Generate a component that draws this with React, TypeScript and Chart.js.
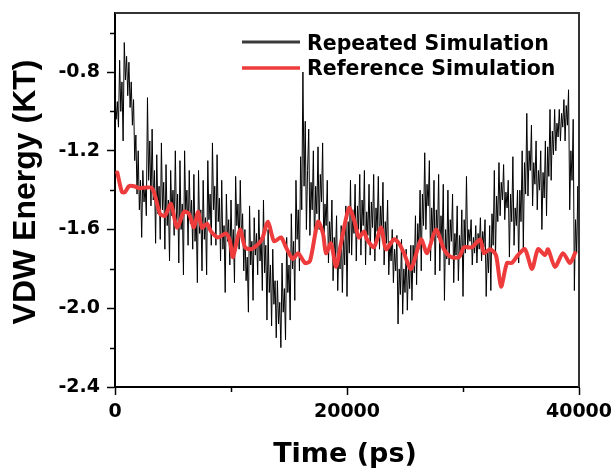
import React, { useEffect, useRef } from 'react';
import { Chart, registerables } from 'chart.js';

Chart.register(...registerables);

// ---------- data ----------
const TIME_STEP = 100; // ps between samples of the repeated simulation

const repeatedValues = [
  -0.97, -1.04, -0.95, -1.08, -0.74, -1.00, -0.85, -1.15, -0.65, -0.84, -0.72, -0.92,
  -0.75, -0.98, -0.85, -1.07, -0.94, -1.25, -1.12, -1.42, -1.20, -1.50, -1.35, -1.64,
  -1.30, -1.46, -1.38, -1.53, -0.93, -1.35, -1.15, -1.48, -1.09, -1.45, -1.30, -1.67,
  -1.22, -1.52, -1.38, -1.65, -1.16, -1.50, -1.36, -1.70, -1.27, -1.58, -1.45, -1.76,
  -1.30, -1.53, -1.40, -1.63, -1.20, -1.56, -1.42, -1.77, -1.25, -1.60, -1.47, -1.83,
  -1.20, -1.52, -1.40, -1.68, -1.30, -1.57, -1.45, -1.70, -1.32, -1.66, -1.52, -1.87,
  -1.30, -1.62, -1.50, -1.81, -1.35, -1.65, -1.54, -1.83, -1.25, -1.55, -1.42, -1.68,
  -1.16, -1.50, -1.38, -1.68, -1.22, -1.56, -1.44, -1.76, -1.35, -1.70, -1.58, -1.92,
  -1.42, -1.66, -1.55, -1.78, -1.45, -1.72, -1.60, -1.87, -1.33, -1.58, -1.47, -1.70,
  -1.35, -1.65, -1.52, -1.81, -1.60, -1.86, -1.74, -2.02, -1.48, -1.78, -1.66, -1.96,
  -1.54, -1.73, -1.62, -1.83, -1.50, -1.76, -1.64, -1.91, -1.45, -1.82, -1.68, -2.06,
  -1.60, -1.92, -1.78, -2.09, -1.70, -1.98, -1.86, -2.15, -1.86, -2.08, -1.97, -2.20,
  -1.77, -2.02, -1.90, -2.16, -1.64, -1.92, -1.78, -2.06, -1.52, -1.80, -1.66, -1.96,
  -1.35, -1.65, -1.50, -1.81, -1.23, -1.50, -0.80, -1.38, -1.05, -1.60, -1.30, -1.09,
  -1.63, -1.36, -1.50, -1.20, -1.68, -1.38, -1.52, -1.18, -1.60, -1.32, -1.46, -1.16,
  -1.70, -1.47, -1.58, -1.35, -1.77, -1.56, -1.67, -1.45, -1.86, -1.64, -1.75, -1.53,
  -1.91, -1.70, -1.80, -1.58, -1.92, -1.64, -1.78, -1.48, -1.94, -1.56, -1.72, -1.35,
  -1.73, -1.50, -1.62, -1.37, -1.76, -1.48, -1.60, -1.32, -1.73, -1.45, -1.58, -1.30,
  -1.78, -1.51, -1.63, -1.37, -1.73, -1.46, -1.59, -1.32, -1.76, -1.49, -1.61, -1.33,
  -1.70, -1.48, -1.60, -1.36, -1.78, -1.56, -1.67, -1.45, -1.83, -1.66, -1.76, -1.60,
  -1.87, -1.70, -1.81, -1.63, -2.08, -1.80, -1.93, -1.65, -2.03, -1.80, -1.92, -1.70,
  -2.01, -1.78, -1.90, -1.68, -1.96, -1.68, -1.82, -1.53, -1.88, -1.57, -1.70, -1.40,
  -1.81, -1.42, -1.58, -1.21, -1.60, -1.37, -1.48, -1.25, -1.76, -1.49, -1.62, -1.35,
  -1.83, -1.50, -1.64, -1.32, -1.81, -1.53, -1.66, -1.37, -1.96, -1.60, -1.75, -1.40,
  -1.78, -1.55, -1.66, -1.42, -1.87, -1.62, -1.73, -1.48, -1.86, -1.63, -1.74, -1.50,
  -1.94, -1.55, -1.72, -1.33, -1.70, -1.60, -1.66, -1.55, -1.78, -1.64, -1.72, -1.58,
  -1.77, -1.62, -1.70, -1.54, -1.76, -1.61, -1.69, -1.55, -1.94, -1.70, -1.82, -1.58,
  -1.91, -1.52, -1.68, -1.30, -1.74, -1.43, -1.56, -1.26, -1.53, -1.36, -1.45, -1.27,
  -1.55, -1.41, -1.49, -1.35, -1.74, -1.42, -1.56, -1.23, -1.68, -1.49, -1.58, -1.40,
  -1.77, -1.40, -1.56, -1.20, -1.70, -1.26, -1.42, -1.01, -1.43, -1.20, -1.30, -1.07,
  -1.48, -1.26, -1.37, -1.15, -1.50, -1.30, -1.40, -1.20, -1.60, -1.31, -1.44, -1.15,
  -1.53, -1.18, -1.33, -0.99, -1.35, -1.10, -1.22, -0.99, -1.20, -1.06, -1.13, -0.99,
  -1.15, -1.01, -1.08, -0.94, -1.15, -0.97, -1.07, -0.89, -1.50, -1.20, -1.35, -1.04,
  -1.91, -1.55, -1.72, -1.38, -1.94,
];

const referenceTimes = [
  200, 600, 860, 1200, 1640, 2070, 3190, 3880, 4310, 4830,
  5340, 5950, 6380, 6810, 7160, 7500, 7930, 8280, 8880, 9570,
  9910, 10170, 10780, 11210, 11720, 12240, 12670, 13190, 13710, 14310,
  14740, 15340, 15780, 16380, 16810, 17500, 17930, 18190, 18620, 19050,
  19480, 20170, 20600, 21030, 21470, 21720, 22330, 22930, 23360, 24050,
  24480, 24910, 25520, 26380, 26900, 27670, 28360, 28970, 29660, 30090,
  30780, 31470, 31810, 32330, 32840, 33280, 33790, 34220, 34740, 35340,
  35950, 36470, 37070, 37330, 37930, 38620, 39220, 39660,
];
const referenceValues = [
  -1.31, -1.41, -1.41, -1.38, -1.38, -1.39, -1.39, -1.52, -1.53, -1.47,
  -1.59, -1.51, -1.52, -1.59, -1.51, -1.59, -1.57, -1.61, -1.64, -1.62,
  -1.66, -1.74, -1.60, -1.69, -1.70, -1.68, -1.65, -1.56, -1.66, -1.64,
  -1.69, -1.75, -1.72, -1.77, -1.76, -1.56, -1.62, -1.72, -1.67, -1.79,
  -1.67, -1.49, -1.55, -1.64, -1.61, -1.65, -1.69, -1.59, -1.70, -1.65,
  -1.67, -1.72, -1.80, -1.65, -1.72, -1.60, -1.70, -1.74, -1.74, -1.69,
  -1.69, -1.65, -1.72, -1.70, -1.73, -1.89, -1.77, -1.77, -1.73, -1.70,
  -1.80, -1.70, -1.73, -1.70, -1.79, -1.72, -1.77, -1.72,
];

const SERIES_LABELS = ['Repeated Simulation', 'Reference Simulation'];
const X_TICK_VALUES = [0, 10000, 20000, 30000, 40000];
const X_MAJOR_TICKS = [0, 20000, 40000];
const Y_TICK_VALUES = [-2.4, -2.2, -2.0, -1.8, -1.6, -1.4, -1.2, -1.0, -0.8, -0.6];
const Y_MAJOR_TICKS = [-2.4, -2.0, -1.6, -1.2, -0.8];
const X_TITLE = 'Time (ps)';
const Y_TITLE = 'VDW Energy (KT)';

// ---------- helpers ----------
const isMajor = (list: number[], v: number) => list.some((m) => Math.abs(m - v) < 1e-6);
const TICK_FONT = { family: '"DejaVu Sans", sans-serif', size: 19, weight: 'bold' as const };

const decorPlugin = {
  id: 'decor',
  afterDraw(chart: any) {
    const { ctx, chartArea } = chart;
    const { left, right, top, bottom } = chartArea;
    ctx.save();
    // frame (top & right)
    ctx.strokeStyle = '#333';
    ctx.lineWidth = 2;
    ctx.beginPath();
    ctx.moveTo(left, top);
    ctx.lineTo(right, top);
    ctx.lineTo(right, bottom);
    ctx.stroke();

    // minor ticks
    ctx.strokeStyle = '#000';
    ctx.lineWidth = 1.5;
    const xs = chart.scales.x;
    xs.ticks.forEach((t: any) => {
      if (!isMajor(X_MAJOR_TICKS, t.value)) {
        const px = Math.round(xs.getPixelForValue(t.value)) + 0.5;
        ctx.beginPath();
        ctx.moveTo(px, bottom);
        ctx.lineTo(px, bottom + 5);
        ctx.stroke();
      }
    });
    const ys = chart.scales.y;
    ys.ticks.forEach((t: any) => {
      if (!isMajor(Y_MAJOR_TICKS, t.value)) {
        const py = Math.round(ys.getPixelForValue(t.value)) + 0.5;
        ctx.beginPath();
        ctx.moveTo(left, py);
        ctx.lineTo(left - 5, py);
        ctx.stroke();
      }
    });

    // axis titles
    ctx.fillStyle = '#000';
    ctx.font = 'bold 27px "DejaVu Sans", sans-serif';
    ctx.textAlign = 'center';
    ctx.textBaseline = 'alphabetic';
    ctx.fillText(X_TITLE, (left + right) / 2 - 2, 462);

    ctx.save();
    ctx.translate(35, 192);
    ctx.rotate(-Math.PI / 2);
    ctx.font = 'bold 32px "Liberation Sans", Arial, sans-serif';
    ctx.textAlign = 'center';
    ctx.textBaseline = 'alphabetic';
    ctx.fillText(Y_TITLE, 0, 0);
    ctx.restore();

    // legend
    const legendRows = [
      { ds: chart.data.datasets[0], y: 42, base: 50, color: '#3a3a3a', w: 3 },
      { ds: chart.data.datasets[1], y: 68, base: 75, color: '#ee3b3b', w: 3.5 },
    ];
    ctx.font = 'bold 20.5px "DejaVu Sans", sans-serif';
    ctx.textAlign = 'left';
    legendRows.forEach((r) => {
      ctx.strokeStyle = r.color;
      ctx.lineWidth = r.w;
      ctx.beginPath();
      ctx.moveTo(242, r.y);
      ctx.lineTo(300, r.y);
      ctx.stroke();
      ctx.fillStyle = '#000';
      ctx.fillText(r.ds.label, 307, r.base);
    });
    ctx.restore();
  },
};

export default function App() {
  const ref = useRef<HTMLCanvasElement>(null);

  useEffect(() => {
    document.body.style.margin = '0';
    const canvas = ref.current;
    if (!canvas) return;

    const repeatedData = repeatedValues.map((v, i) => ({ x: i * TIME_STEP, y: v }));
    const referenceData = referenceTimes.map((t, i) => ({ x: t, y: referenceValues[i] }));

    const chart = new Chart(canvas, {
      type: 'line',
      data: {
        datasets: [
          {
            label: SERIES_LABELS[0],
            data: repeatedData,
            borderColor: '#000',
            borderWidth: 1,
            pointRadius: 0,
            tension: 0,
            order: 2,
          },
          {
            label: SERIES_LABELS[1],
            data: referenceData,
            borderColor: '#ee3b3b',
            borderWidth: 4,
            pointRadius: 0,
            tension: 0.25,
            borderJoinStyle: 'round',
            borderCapStyle: 'round',
            order: 1,
          },
        ],
      },
      options: {
        responsive: false,
        animation: false,
        devicePixelRatio: 1,
        layout: { padding: { top: 13, right: 37, left: 0, bottom: 0 } },
        plugins: { legend: { display: false }, tooltip: { enabled: false } },
        scales: {
          x: {
            type: 'linear',
            position: 'bottom',
            min: 0,
            max: 40000,
            afterBuildTicks: (s: any) => { s.ticks = X_TICK_VALUES.map((value) => ({ value })); },
            afterFit: (s: any) => { s.height = 84; s.paddingLeft = 0; s.paddingRight = 0; },
            ticks: {
              autoSkip: false,
              maxRotation: 0,
              padding: 6,
              color: '#000',
              font: TICK_FONT,
              callback: (v: any) => (isMajor(X_MAJOR_TICKS, Number(v)) ? String(v) : ''),
            },
            grid: {
              drawOnChartArea: false,
              drawTicks: true,
              tickLength: 8,
              tickWidth: 1.5,
              tickColor: (c: any) => (c.tick && isMajor(X_MAJOR_TICKS, c.tick.value) ? '#000' : 'rgba(0,0,0,0)'),
            },
            border: { display: true, color: '#000', width: 2 },
          },
          y: {
            type: 'linear',
            min: -2.4,
            max: -0.5,
            afterBuildTicks: (s: any) => { s.ticks = Y_TICK_VALUES.map((value) => ({ value })); },
            afterFit: (s: any) => { s.width = 115; s.paddingTop = 0; s.paddingBottom = 0; },
            ticks: {
              autoSkip: false,
              padding: 7,
              color: '#000',
              font: TICK_FONT,
              callback: (v: any) => (isMajor(Y_MAJOR_TICKS, Number(v)) ? Number(v).toFixed(1) : ''),
            },
            grid: {
              drawOnChartArea: false,
              drawTicks: true,
              tickLength: 8,
              tickWidth: 1.5,
              tickColor: (c: any) => (c.tick && isMajor(Y_MAJOR_TICKS, c.tick.value) ? '#000' : 'rgba(0,0,0,0)'),
            },
            border: { display: true, color: '#000', width: 2 },
          },
        },
      },
      plugins: [decorPlugin],
    } as any);

    return () => chart.destroy();
  }, []);

  return (
    <div style={{ width: 616, height: 471 }}>
      <canvas ref={ref} width={616} height={471} style={{ display: 'block' }} />
    </div>
  );
}
